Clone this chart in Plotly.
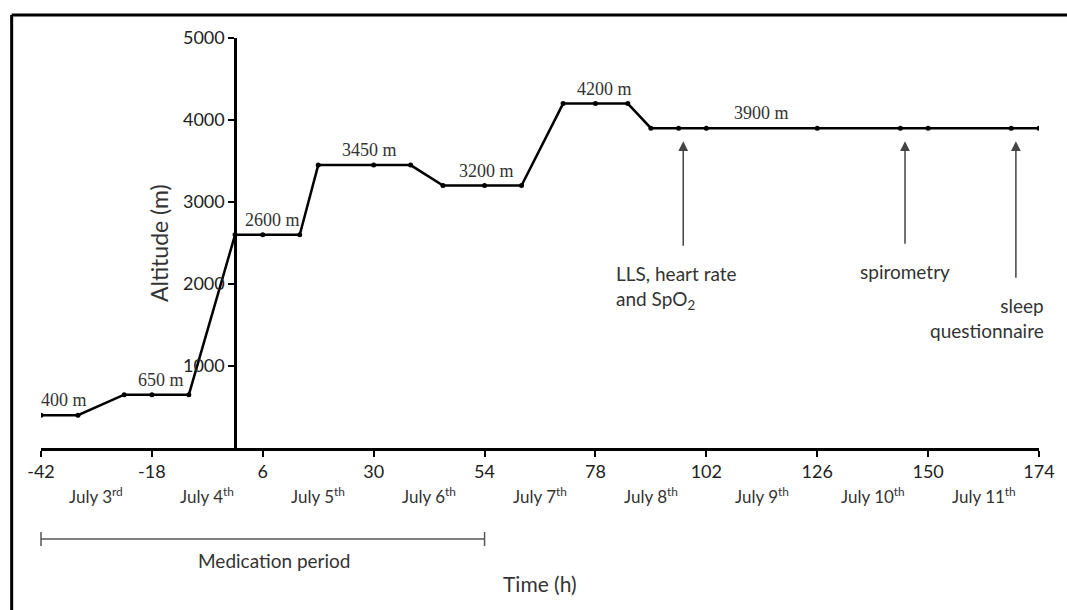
import plotly.graph_objects as go

# altitude profile
hours = [-42, -34, -24, -18, -10, 0, 6, 14, 18, 30, 38, 45, 54, 62, 71, 78, 85,
         90, 96, 102, 126, 144, 150, 168, 174]
altitude = [400, 400, 650, 650, 650, 2600, 2600, 2600, 3450, 3450, 3450, 3200,
            3200, 3200, 4200, 4200, 4200, 3900, 3900, 3900, 3900, 3900, 3900,
            3900, 3900]

x_ticks = [-42, -18, 6, 30, 54, 78, 102, 126, 150, 174]
y_ticks = [1000, 2000, 3000, 4000, 5000]

day_hours = [-30, -6, 18, 42, 66, 90, 114, 138, 162]
day_labels = ["July 3<sup>rd</sup>", "July 4<sup>th</sup>", "July 5<sup>th</sup>",
              "July 6<sup>th</sup>", "July 7<sup>th</sup>", "July 8<sup>th</sup>",
              "July 9<sup>th</sup>", "July 10<sup>th</sup>", "July 11<sup>th</sup>"]

label_hours = [-37, -16, 8, 29, 54.5, 80, 114]
label_alts = [400, 650, 2600, 3450, 3200, 4200, 3900]
label_texts = ["400 m", "650 m", "2600 m", "3450 m", "3200 m", "4200 m", "3900 m"]

event_hours = [97, 145, 169]
event_texts = ["LLS, heart rate<br>and SpO<sub>2</sub>", "spirometry",
               "sleep<br>questionnaire"]

med_start, med_end = -42, 54

x_min, x_max = -42, 174
sans = "Lato, 'Open Sans', sans-serif"
serif = "'Liberation Serif', 'DejaVu Serif', serif"
txt = "#333"


def to_paper(h):
    return (h - x_min) / (x_max - x_min)


fig = go.Figure()
fig.add_trace(go.Scatter(
    x=hours, y=altitude, mode="lines+markers",
    line=dict(color="black", width=2.5),
    marker=dict(color="black", size=5),
    showlegend=False, hoverinfo="x+y",
))

# altitude labels
for h, a, t in zip(label_hours, label_alts, label_texts):
    fig.add_annotation(x=h, y=a, text=t, showarrow=False, yshift=15,
                       font=dict(family=serif, size=18, color=txt))

# day labels under the axis
for h, t in zip(day_hours, day_labels):
    fig.add_annotation(x=h, y=0, text=t, showarrow=False, yshift=-47,
                       font=dict(family=sans, size=17, color=txt))

# measurement arrows
arrow_ay = [119, 117, 151]
for h, ay in zip(event_hours, arrow_ay):
    fig.add_annotation(x=h, y=3900, text="", showarrow=True, ax=0, ay=ay,
                       arrowhead=2, arrowsize=1.3, arrowwidth=1.5,
                       arrowcolor="#444", standoff=13)

fig.add_annotation(x=event_hours[0], y=3900, text=event_texts[0], showarrow=False,
                   xanchor="left", yanchor="top", xshift=-69, yshift=-132,
                   align="left", font=dict(family=sans, size=19, color=txt))
fig.add_annotation(x=event_hours[1], y=3900, text=event_texts[1], showarrow=False,
                   xanchor="center", yanchor="top", yshift=-130,
                   font=dict(family=sans, size=19, color=txt))
fig.add_annotation(x=event_hours[2], y=3900, text=event_texts[2], showarrow=False,
                   xanchor="right", yanchor="top", xshift=30, yshift=-164,
                   align="right", font=dict(family=sans, size=19, color=txt))

# medication period bar
fig.add_shape(type="line", xref="paper", yref="paper", ysizemode="pixel", yanchor=0,
              x0=to_paper(med_start), x1=to_paper(med_end), y0=-91, y1=-91,
              line=dict(color="#555", width=1.5))
for h in (med_start, med_end):
    fig.add_shape(type="line", xref="paper", yref="paper", ysizemode="pixel",
                  yanchor=0, x0=to_paper(h), x1=to_paper(h), y0=-84, y1=-98,
                  line=dict(color="#555", width=1.5))
fig.add_annotation(x=8.5, y=0, text="Medication period", showarrow=False,
                   yshift=-112, font=dict(family=sans, size=19, color=txt))

fig.add_annotation(x=(x_min + x_max) / 2, y=0, text="Time (h)", showarrow=False,
                   yshift=-135, font=dict(family=sans, size=21, color=txt))
fig.add_annotation(x=0, y=2500, text="Altitude (m)", xshift=-76,
                   showarrow=False, textangle=-90,
                   font=dict(family=sans, size=23, color=txt))

# outer frame (top and left edges)
fig.add_shape(type="line", xref="paper", yref="paper", x0=-0.0294, x1=1.03,
              y0=1.056, y1=1.056, line=dict(color="black", width=3))
fig.add_shape(type="line", xref="paper", yref="paper", x0=-0.0294, x1=-0.0294,
              y0=1.056, y1=-0.4, line=dict(color="black", width=3))

fig.update_layout(
    width=1067, height=610,
    margin=dict(l=41, r=21, t=38, b=162),
    plot_bgcolor="white", paper_bgcolor="white",
    font=dict(family=sans, color="#222"),
    xaxis=dict(range=[x_min, x_max], tickvals=x_ticks,
               ticktext=[str(v) for v in x_ticks], showgrid=False,
               zeroline=False, showline=True, linecolor="black", linewidth=2.5,
               ticks="outside", ticklen=6, tickwidth=2, tickcolor="black",
               tickfont=dict(size=18, color="#222")),
    yaxis=dict(range=[0, 5000], tickvals=y_ticks, showgrid=False,
               zeroline=False, showline=True, linecolor="black", linewidth=2.5,
               ticks="outside", ticklen=6, tickwidth=2, tickcolor="black",
               anchor="free", position=to_paper(0),
               tickfont=dict(size=18, color="#222")),
)

fig.write_html("out.html", config={"displayModeBar": False},
               post_script="document.body.style.margin='0';")
